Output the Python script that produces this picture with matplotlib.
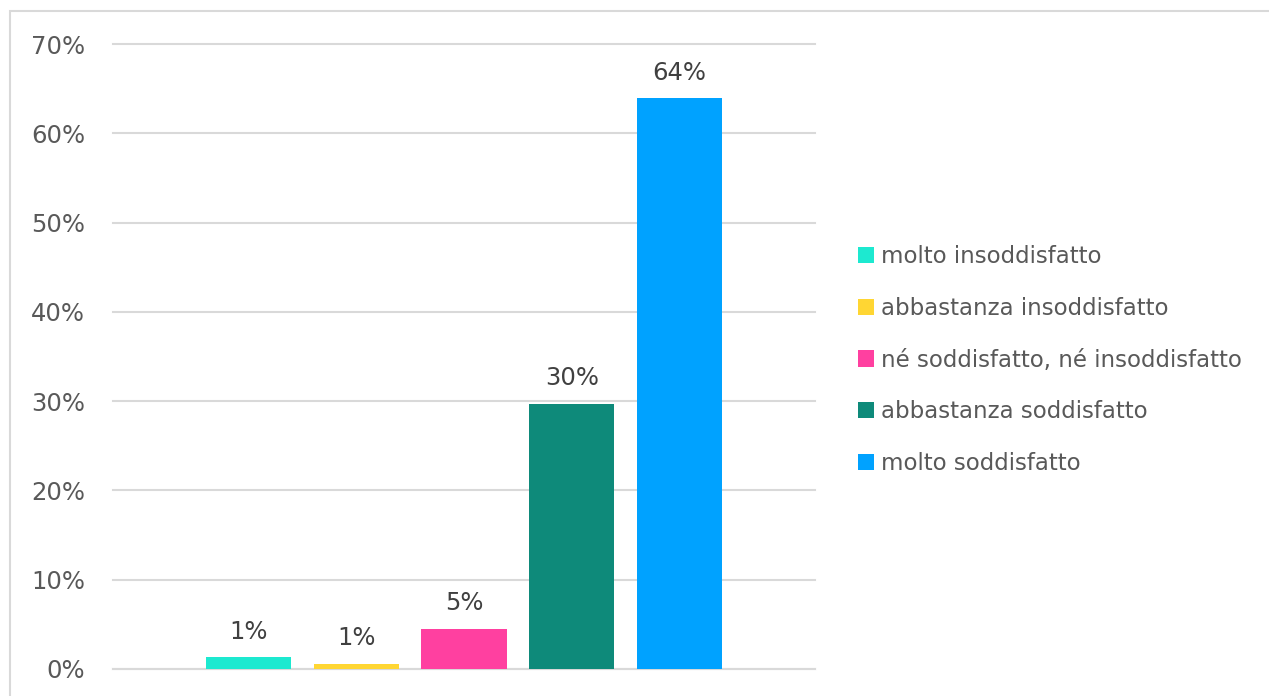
import matplotlib.pyplot as plt
from matplotlib.patches import Rectangle
from matplotlib.ticker import PercentFormatter

# data
labels = ['molto insoddisfatto', 'abbastanza insoddisfatto',
          'né soddisfatto, né insoddisfatto', 'abbastanza soddisfatto',
          'molto soddisfatto']
values = [1.3, 0.6, 4.5, 29.7, 63.9]
shown = ['1%', '1%', '5%', '30%', '64%']
colors = ['#1DE9D0', '#FFD633', '#FF40A0', '#0E8A7A', '#00A2FF']

plt.rcParams['font.family'] = ['DejaVu Sans']

fig = plt.figure(figsize=(12.69, 6.96), dpi=100)
# light frame around the chart (cut at right/bottom like the source)
fig.patches.append(Rectangle((10/1269, -0.1), 1.2, 1 - 11/696 + 0.1,
                             transform=fig.transFigure, fill=False,
                             edgecolor='#d9d9d9', lw=1.5))

ax = fig.add_axes([113/1269, 27/696, 702/1269, 625/696])

for i, (v, c, lab) in enumerate(zip(values, colors, labels)):
    ax.bar(i, v, width=0.79, color=c, label=lab, zorder=3)
    ax.annotate(shown[i], (i, v), xytext=(0, 10), textcoords='offset points',
                ha='center', va='bottom', fontsize=17.5, color='#404040')

ax.set_xlim(-1.258, 5.258)
ax.set_ylim(0, 70)
ax.set_yticks(range(0, 71, 10))
ax.yaxis.set_major_formatter(PercentFormatter(decimals=0))
ax.set_xticks([])
ax.tick_params(axis='y', length=0, pad=20, labelsize=17.5, labelcolor='#595959')
ax.grid(axis='y', color='#d9d9d9', lw=1.5, zorder=0)
for gl in ax.get_ygridlines():
    gl.set_clip_on(False)
for s in ['top', 'right', 'left']:
    ax.spines[s].set_visible(False)
ax.spines['bottom'].set_color('#d9d9d9')
ax.spines['bottom'].set_linewidth(1.5)

leg = fig.legend(loc='center left', bbox_to_anchor=(837/1269, 1 - 360/696),
                 frameon=False, fontsize=16.5, labelcolor='#595959',
                 handlelength=0.7, handleheight=0.7, handletextpad=0.3,
                 labelspacing=1.25)

fig.savefig('out.png', dpi=100)
